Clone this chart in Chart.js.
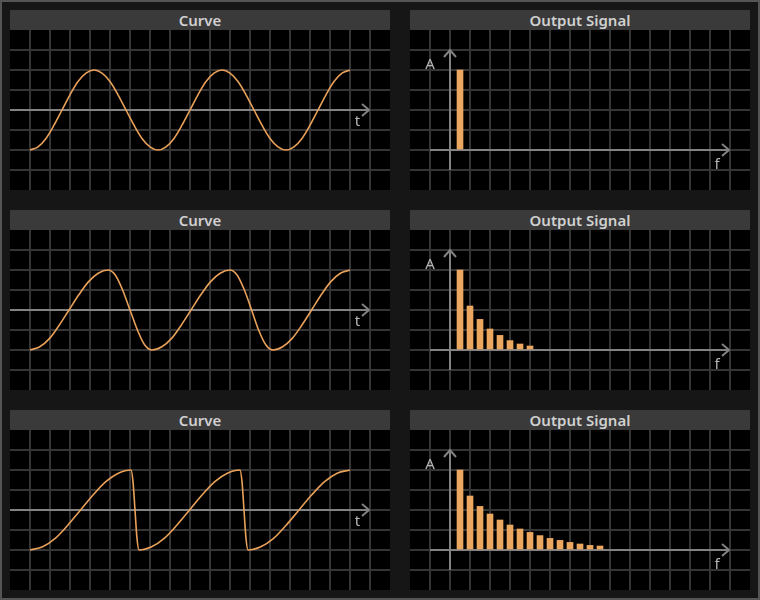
<!DOCTYPE html>
<html><head><meta charset="utf-8">
<script src="https://cdn.jsdelivr.net/npm/chart.js@4.4.1/dist/chart.umd.min.js"></script>
<style>
html,body{margin:0;padding:0;background:#161616;}
#frame{position:relative;width:760px;height:600px;background:#161616;overflow:hidden;box-shadow:inset 0 0 0 2px #555555;}
.panel{position:absolute;}
.title{height:20px;line-height:20px;background:#3a3a3a;color:#d0d0d0;font-family:"Noto Sans",sans-serif;font-size:15px;font-weight:600;text-align:center;white-space:nowrap;}
canvas{display:block;background:#000;}
</style></head>
<body>
<div id="frame">
  <div class="panel" style="left:10px;top:10px;width:380px"><div class="title">Curve</div><canvas id="c1" width="380" height="160"></canvas></div>
  <div class="panel" style="left:410px;top:10px;width:340px"><div class="title">Output Signal</div><canvas id="s1" width="340" height="160"></canvas></div>
  <div class="panel" style="left:10px;top:210px;width:380px"><div class="title">Curve</div><canvas id="c2" width="380" height="160"></canvas></div>
  <div class="panel" style="left:410px;top:210px;width:340px"><div class="title">Output Signal</div><canvas id="s2" width="340" height="160"></canvas></div>
  <div class="panel" style="left:10px;top:410px;width:380px"><div class="title">Curve</div><canvas id="c3" width="380" height="160"></canvas></div>
  <div class="panel" style="left:410px;top:410px;width:340px"><div class="title">Output Signal</div><canvas id="s3" width="340" height="160"></canvas></div>
</div>
<script>
// ---- Data (time in grid cells, amplitude in units) ----
const sineTimes = [0,0.4,0.8,1.2,1.6,2.0,2.4,2.8,3.2,3.6,4.0,4.4,4.8,5.2,5.6,6.0,6.4,6.8,7.2,7.6,8.0,8.4,8.8,9.2,9.6,10.0,10.4,10.8,11.2,11.6,12.0,12.4,12.8,13.2,13.6,14.0,14.4,14.8,15.2,15.6,16.0];
const sineValues = [-1,-0.92,-0.71,-0.38,0,0.38,0.71,0.92,1,0.92,0.71,0.38,0,-0.38,-0.71,-0.92,-1,-0.92,-0.71,-0.38,0,0.38,0.71,0.92,1,0.92,0.71,0.38,0,-0.38,-0.71,-0.92,-1,-0.92,-0.71,-0.38,0,0.38,0.71,0.92,1];

const skewTimes = [0,0.49,0.98,1.46,1.95,2.44,2.93,3.41,3.9, 4.27,4.63,5.0,5.37,5.73,6.1, 6.59,7.08,7.56,8.05,8.54,9.03,9.51,10.0, 10.36,10.72,11.08,11.43,11.79,12.15, 12.63,13.11,13.59,14.08,14.56,15.04,15.52,16.0];
const skewValues = [-1,-0.92,-0.71,-0.38,0,0.38,0.71,0.92,1, 0.87,0.5,0,-0.5,-0.87,-1, -0.92,-0.71,-0.38,0,0.38,0.71,0.92,1, 0.87,0.5,0,-0.5,-0.87,-1, -0.92,-0.71,-0.38,0,0.38,0.71,0.92,1];

const sawTimes = [0,0.63,1.26,1.89,2.53,3.16,3.79,4.42,5.05, 5.15,5.25,5.35,5.45, 6.08,6.71,7.34,7.98,8.61,9.24,9.87,10.5, 10.6,10.7,10.8,10.9, 11.54,12.18,12.81,13.45,14.09,14.73,15.36,16.0];
const sawValues = [-1,-0.92,-0.71,-0.38,0,0.38,0.71,0.92,1, 0.71,0,-0.71,-1, -0.92,-0.71,-0.38,0,0.38,0.71,0.92,1, 0.71,0,-0.71,-1, -0.92,-0.71,-0.38,0,0.38,0.71,0.92,1];

const freqs1 = [0.5];
const amps1 = [4];
const freqs2 = [0.5,1.0,1.5,2.0,2.5,3.0,3.5,4.0];
const amps2 = [4,2.2,1.53,1.05,0.73,0.47,0.3,0.2];
const freqs3 = [0.5,1.0,1.5,2.0,2.5,3.0,3.5,4.0,4.5,5.0,5.5,6.0,6.5,7.0,7.5];
const amps3 = [4,2.7,2.18,1.8,1.5,1.25,1.05,0.88,0.72,0.58,0.48,0.38,0.3,0.23,0.2];

const labelTime = 't', labelAmp = 'A', labelFreq = 'f';

// ---- Styles ----
const GRID = '#353535', AXIS = '#828282', ORANGE = '#E9A15A', BAR = '#EBA660', TXT = '#b4b4b4';

const gridColor = (ctx) => {
  const s = ctx.scale;
  if (!ctx.tick) return GRID;
  const v = ctx.tick.value;
  return (Math.abs(v - s.min) < 1e-6 || Math.abs(v - s.max) < 1e-6) ? 'rgba(0,0,0,0)' : GRID;
};

const axisPlugin = {
  id: 'signalAxes',
  beforeDatasetsDraw(chart, args, o) {
    const {ctx} = chart; const x = chart.scales.x, y = chart.scales.y;
    ctx.save();
    ctx.strokeStyle = AXIS; ctx.lineWidth = 2; ctx.lineCap = 'butt'; ctx.lineJoin = 'miter';
    const y0 = y.getPixelForValue(0);
    const xa = x.getPixelForValue(o.hFrom), xb = x.getPixelForValue(o.hTo);
    ctx.beginPath(); ctx.moveTo(xa, y0); ctx.lineTo(xb - 1, y0); ctx.stroke();
    ctx.beginPath(); ctx.moveTo(xb - 7, y0 - 6); ctx.lineTo(xb, y0); ctx.lineTo(xb - 7, y0 + 6); ctx.stroke();
    if (o.vertical) {
      const x0 = x.getPixelForValue(0);
      const ya = y.getPixelForValue(o.vFrom), yb = y.getPixelForValue(o.vTo);
      ctx.beginPath(); ctx.moveTo(x0, ya); ctx.lineTo(x0, yb + 1); ctx.stroke();
      ctx.beginPath(); ctx.moveTo(x0 - 6, yb + 7); ctx.lineTo(x0, yb); ctx.lineTo(x0 + 6, yb + 7); ctx.stroke();
    }
    ctx.restore();
  },
  afterDraw(chart, args, o) {
    const {ctx} = chart; const x = chart.scales.x, y = chart.scales.y;
    ctx.save();
    ctx.fillStyle = TXT; ctx.font = '15px "Noto Sans", sans-serif';
    ctx.textAlign = 'center'; ctx.textBaseline = 'middle';
    const y0 = y.getPixelForValue(0), xb = x.getPixelForValue(o.hTo);
    ctx.fillText(o.hLabel, xb + o.hLabelDx, y0 + o.hLabelDy);
    if (o.vertical) {
      const x0 = x.getPixelForValue(0), yb = y.getPixelForValue(o.vTo);
      ctx.fillText(o.vLabel, x0 + o.vLabelDx, yb + o.vLabelDy);
    }
    ctx.restore();
  }
};

function scaleOpts(min, max, step) {
  return {
    type: 'linear', min, max, offset: false,
    ticks: { display: false, stepSize: step },
    grid: { color: gridColor, lineWidth: 2, drawTicks: false, offset: false },
    border: { display: false }
  };
}

function makeCurve(id, times, values) {
  new Chart(document.getElementById(id), {
    type: 'line',
    data: { datasets: [{
      data: times.map((t, i) => ({x: t, y: values[i]})),
      borderColor: ORANGE, borderWidth: 1.6, pointRadius: 0, fill: false,
      cubicInterpolationMode: 'monotone'
    }]},
    options: {
      responsive: false, animation: false, devicePixelRatio: 1,
      layout: { padding: 0 },
      plugins: { legend: {display: false}, tooltip: {enabled: false}, title: {display: false},
        signalAxes: { hFrom: -1, hTo: 16.95, hLabel: labelTime, hLabelDx: -11.5, hLabelDy: 12, vertical: false } },
      scales: { x: scaleOpts(-1, 18, 1), y: scaleOpts(-2, 2, 0.5) }
    },
    plugins: [axisPlugin]
  });
}

function makeSpectrum(id, freqs, amps) {
  new Chart(document.getElementById(id), {
    type: 'bar',
    data: { datasets: [{
      data: freqs.map((f, i) => ({x: f, y: amps[i]})),
      backgroundColor: BAR, borderWidth: 0, barThickness: 6
    }]},
    options: {
      responsive: false, animation: false, devicePixelRatio: 1,
      layout: { padding: 0 },
      plugins: { legend: {display: false}, tooltip: {enabled: false}, title: {display: false},
        signalAxes: { hFrom: -1, hTo: 13.95, hLabel: labelFreq, hLabelDx: -12, hLabelDy: 15,
          vertical: true, vFrom: -1, vTo: 5, vLabel: labelAmp, vLabelDx: -20, vLabelDy: 15 } },
      scales: { x: scaleOpts(-2, 15, 1), y: scaleOpts(-2, 6, 1) }
    },
    plugins: [axisPlugin]
  });
}

makeCurve('c1', sineTimes, sineValues);
makeCurve('c2', skewTimes, skewValues);
makeCurve('c3', sawTimes, sawValues);
makeSpectrum('s1', freqs1, amps1);
makeSpectrum('s2', freqs2, amps2);
makeSpectrum('s3', freqs3, amps3);
</script>
</body></html>
